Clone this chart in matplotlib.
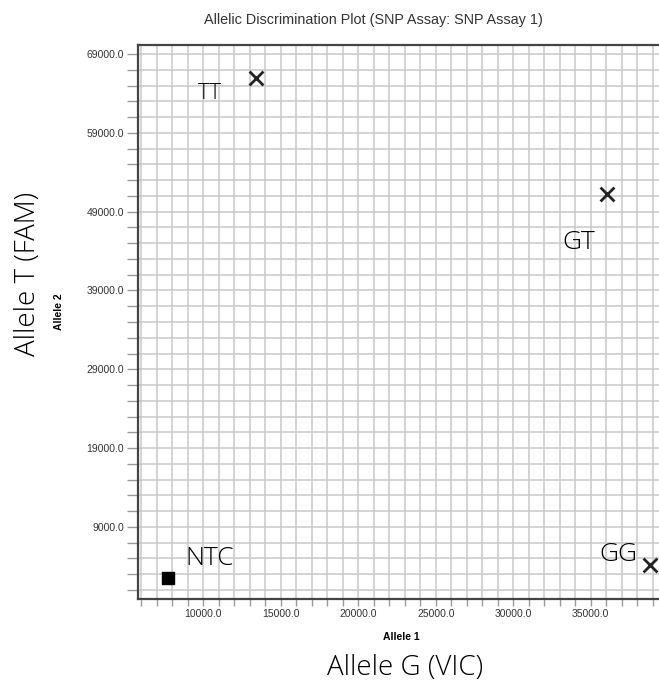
import numpy as np
import matplotlib.pyplot as plt
from matplotlib.ticker import MultipleLocator, FixedLocator

# genotype calls
genotypes = ["TT", "GT", "GG", "NTC"]
allele1 = [13400, 36030, 38820, 7720]
allele2 = [65960, 51290, 4150, 2500]
markers = ["x", "x", "x", "s"]

x_major = [10000, 15000, 20000, 25000, 30000, 35000]
y_major = [9000, 19000, 29000, 39000, 49000, 59000, 69000]

# where each big label sits relative to its point (points)
label_offsets = {"TT": (-33, -11), "GT": (-20, -35), "GG": (-23, 8), "NTC": (30, 14)}
label_sizes = {"TT": 16, "GT": 19, "GG": 19, "NTC": 19}

thin = dict(family="Open Sans", fontweight=300)
small = ["Liberation Sans", "DejaVu Sans"]

fig = plt.figure(figsize=(6.59, 6.86), dpi=100)
ax = fig.add_axes([138 / 659, 1 - 599 / 686, 1 - 138 / 659, (599 - 45) / 686])

ax.set_xlim(5787, 39400)
ax.set_ylim(-150, 70150)

ax.xaxis.set_major_locator(FixedLocator(x_major))
ax.xaxis.set_minor_locator(MultipleLocator(1000))
ax.yaxis.set_major_locator(FixedLocator(y_major))
ax.yaxis.set_minor_locator(FixedLocator(np.arange(1000, 70000, 2000)))
ax.set_xticklabels([f"{v:.1f}" for v in x_major])
ax.set_yticklabels([f"{v:.1f}" for v in y_major])

ax.grid(True, which="both", color="#c9c9c9", linewidth=1.1)
ax.set_axisbelow(True)
ax.tick_params(which="both", axis="y", direction="out", length=8, width=1, color="#9a9a9a")
ax.tick_params(which="both", axis="x", direction="out", length=5, width=1, color="#9a9a9a")
ax.tick_params(labelsize=7.5, labelcolor="#333333", pad=2)
for lab in ax.get_xticklabels() + ax.get_yticklabels():
    lab.set_family(small)

for side in ["left", "bottom", "top"]:
    ax.spines[side].set_color("#444444")
    ax.spines[side].set_linewidth(1.6)
ax.spines["right"].set_visible(False)

for g, x, y, m in zip(genotypes, allele1, allele2, markers):
    if m == "s":
        ax.scatter(x, y, marker="s", s=80, color="black", zorder=3, clip_on=False)
    else:
        ax.scatter(x, y, marker="x", s=100, color="#222222", linewidths=2, zorder=3, clip_on=False)
    ax.annotate(g, (x, y), xytext=label_offsets[g], textcoords="offset points",
                ha="center", va="center", fontsize=label_sizes[g], color="black", **thin)

fig.text(373 / 659, 1 - 20 / 686, "Allelic Discrimination Plot (SNP Assay: SNP Assay 1)",
         ha="center", va="center", fontsize=10.4, family=small, color="#333333")
fig.text(401 / 659, 1 - 637 / 686, "Allele 1", ha="center", va="center",
         fontsize=7.5, fontweight="bold", family=small)
fig.text(59 / 659, 1 - 312 / 686, "Allele 2", ha="center", va="center", rotation=90,
         fontsize=7.5, fontweight="bold", family=small)
fig.text(405 / 659, 1 - 668 / 686, "Allele G (VIC)", ha="center", va="center",
         fontsize=20, **thin)
fig.text(28 / 659, 1 - 274 / 686, "Allele T (FAM)", ha="center", va="center", rotation=90,
         fontsize=20, **thin)

fig.savefig("out.png", dpi=100)
